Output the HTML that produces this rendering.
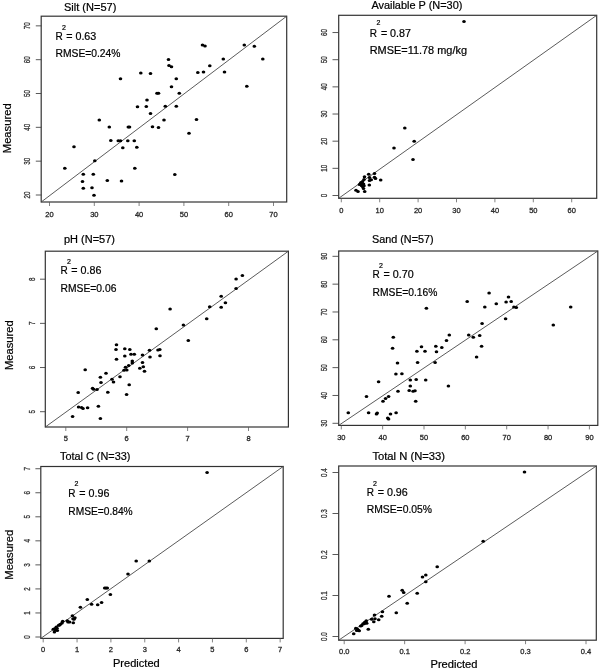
<!DOCTYPE html>
<html><head><meta charset="utf-8"><title>Measured vs Predicted</title>
<style>
html,body{margin:0;padding:0;background:#fff;}
svg{display:block;font-family:"Liberation Sans",sans-serif;}
.t{fill:#000;font-size:10px;stroke:#000;stroke-width:0.2px;}
.tt{fill:#000;font-size:10px;stroke:#000;stroke-width:0.2px;}
.tl{fill:#333;font-size:7px;stroke:#333;stroke-width:0.25px;}
.tlx{fill:#2a2a2a;font-size:7.5px;stroke:#2a2a2a;stroke-width:0.3px;}
.sup{fill:#000;font-size:7px;stroke:#000;stroke-width:0.2px;}
.fr{fill:none;stroke:#333;stroke-width:1.2;}
.dg{stroke:#484848;stroke-width:0.9;}
.tky{stroke:#3c3c3c;stroke-width:0.85;}
.tkx{stroke:#5a5a5a;stroke-width:0.75;}
.zz{stroke:#444;stroke-width:1.2;}
.p ellipse{fill:#000;}
</style></head>
<body>
<svg width="600" height="669" viewBox="0 0 600 669">
<defs><filter id="b" x="-5%" y="-5%" width="110%" height="110%"><feGaussianBlur stdDeviation="0.4"/></filter></defs>
<g filter="url(#b)">
<rect x="0" y="0" width="600" height="669" fill="#fff"/>
<!-- panel 1 -->
<g>
<rect class="fr" x="41.2" y="16.2" width="245.5" height="185.8"/>
<line class="dg" x1="41.2" y1="202" x2="286.7" y2="16.2"/>
<path class="tky" fill="none" d="M35.8 195H41.2M35.8 161.17H41.2M35.8 127.34H41.2M35.8 93.51H41.2M35.8 59.68H41.2M35.8 25.85H41.2"/>
<path class="tkx" fill="none" d="M49.5 202V206M94.3 202V206M139.1 202V206M183.9 202V206M228.7 202V206M273.5 202V206"/>
<text class="tl" text-anchor="middle" transform="translate(30.18 195) rotate(-90) scale(0.9 1.3)">20</text>
<text class="tl" text-anchor="middle" transform="translate(30.18 161.17) rotate(-90) scale(0.9 1.3)">30</text>
<text class="tl" text-anchor="middle" transform="translate(30.18 127.34) rotate(-90) scale(0.9 1.3)">40</text>
<text class="tl" text-anchor="middle" transform="translate(30.18 93.51) rotate(-90) scale(0.9 1.3)">50</text>
<text class="tl" text-anchor="middle" transform="translate(30.18 59.68) rotate(-90) scale(0.9 1.3)">60</text>
<text class="tl" text-anchor="middle" transform="translate(30.18 25.85) rotate(-90) scale(0.9 1.3)">70</text>
<text class="tlx" text-anchor="middle" x="49.5" y="216.7">20</text>
<text class="tlx" text-anchor="middle" x="94.3" y="216.7">30</text>
<text class="tlx" text-anchor="middle" x="139.1" y="216.7">40</text>
<text class="tlx" text-anchor="middle" x="183.9" y="216.7">50</text>
<text class="tlx" text-anchor="middle" x="228.7" y="216.7">60</text>
<text class="tlx" text-anchor="middle" x="273.5" y="216.7">70</text>
<text class="tt" x="64" y="10.7" textLength="52.3" lengthAdjust="spacingAndGlyphs">Silt (N=57)</text>
<text class="t" x="55.5" y="39.6">R</text>
<text class="sup" x="62" y="29.5">2</text>
<text class="t" x="66.2" y="39.6" textLength="30.1" lengthAdjust="spacingAndGlyphs">= 0.63</text>
<text class="t" x="55.5" y="57.4" textLength="65" lengthAdjust="spacingAndGlyphs">RMSE=0.24%</text>
<g class="p"><ellipse cx="202.5" cy="45" rx="1.8" ry="1.5"/><ellipse cx="205" cy="46" rx="1.8" ry="1.5"/><ellipse cx="244.3" cy="45" rx="1.8" ry="1.5"/><ellipse cx="254.3" cy="46.3" rx="1.8" ry="1.5"/><ellipse cx="262.8" cy="59" rx="1.8" ry="1.5"/><ellipse cx="223.3" cy="59" rx="1.8" ry="1.5"/><ellipse cx="168.5" cy="59.5" rx="1.8" ry="1.5"/><ellipse cx="169" cy="65.5" rx="1.8" ry="1.5"/><ellipse cx="171.5" cy="66.8" rx="1.8" ry="1.5"/><ellipse cx="209.8" cy="65.8" rx="1.8" ry="1.5"/><ellipse cx="197.8" cy="72.5" rx="1.8" ry="1.5"/><ellipse cx="203.5" cy="72" rx="1.8" ry="1.5"/><ellipse cx="224.5" cy="72" rx="1.8" ry="1.5"/><ellipse cx="140.8" cy="73" rx="1.8" ry="1.5"/><ellipse cx="150.5" cy="73.5" rx="1.8" ry="1.5"/><ellipse cx="176.3" cy="78.8" rx="1.8" ry="1.5"/><ellipse cx="246.8" cy="86.3" rx="1.8" ry="1.5"/><ellipse cx="171.5" cy="86.8" rx="1.8" ry="1.5"/><ellipse cx="157" cy="93.3" rx="1.8" ry="1.5"/><ellipse cx="158.5" cy="93.3" rx="1.8" ry="1.5"/><ellipse cx="179.3" cy="93.3" rx="1.8" ry="1.5"/><ellipse cx="147" cy="100" rx="1.8" ry="1.5"/><ellipse cx="146.3" cy="106.5" rx="1.8" ry="1.5"/><ellipse cx="165.3" cy="106.3" rx="1.8" ry="1.5"/><ellipse cx="176.3" cy="106.3" rx="1.8" ry="1.5"/><ellipse cx="150.5" cy="113.5" rx="1.8" ry="1.5"/><ellipse cx="164" cy="120" rx="1.8" ry="1.5"/><ellipse cx="196.5" cy="119.5" rx="1.8" ry="1.5"/><ellipse cx="120.5" cy="78.8" rx="1.8" ry="1.5"/><ellipse cx="137.5" cy="106.8" rx="1.8" ry="1.5"/><ellipse cx="99.3" cy="120" rx="1.8" ry="1.5"/><ellipse cx="109.3" cy="127" rx="1.8" ry="1.5"/><ellipse cx="128.3" cy="127" rx="1.8" ry="1.5"/><ellipse cx="129.5" cy="127" rx="1.8" ry="1.5"/><ellipse cx="152.5" cy="126.8" rx="1.8" ry="1.5"/><ellipse cx="158.5" cy="127.5" rx="1.8" ry="1.5"/><ellipse cx="189" cy="133.3" rx="1.8" ry="1.5"/><ellipse cx="110.8" cy="140.5" rx="1.8" ry="1.5"/><ellipse cx="118.3" cy="140.8" rx="1.8" ry="1.5"/><ellipse cx="120.5" cy="140.8" rx="1.8" ry="1.5"/><ellipse cx="127.8" cy="140.8" rx="1.8" ry="1.5"/><ellipse cx="134.3" cy="140.8" rx="1.8" ry="1.5"/><ellipse cx="74" cy="146.8" rx="1.8" ry="1.5"/><ellipse cx="122.8" cy="147.8" rx="1.8" ry="1.5"/><ellipse cx="136.8" cy="147.3" rx="1.8" ry="1.5"/><ellipse cx="94.8" cy="160.8" rx="1.8" ry="1.5"/><ellipse cx="64.8" cy="168.3" rx="1.8" ry="1.5"/><ellipse cx="134.8" cy="168.3" rx="1.8" ry="1.5"/><ellipse cx="83.3" cy="174.3" rx="1.8" ry="1.5"/><ellipse cx="93.3" cy="174.3" rx="1.8" ry="1.5"/><ellipse cx="174.8" cy="174.5" rx="1.8" ry="1.5"/><ellipse cx="82.5" cy="181.5" rx="1.8" ry="1.5"/><ellipse cx="107.3" cy="180.5" rx="1.8" ry="1.5"/><ellipse cx="121.5" cy="181" rx="1.8" ry="1.5"/><ellipse cx="83.3" cy="188.3" rx="1.8" ry="1.5"/><ellipse cx="92" cy="187.8" rx="1.8" ry="1.5"/><ellipse cx="94" cy="195.3" rx="1.8" ry="1.5"/></g>
</g>
<!-- panel 2 -->
<g>
<rect class="fr" x="338.7" y="15.3" width="258" height="183"/>
<line class="dg" x1="338.7" y1="198.3" x2="596.7" y2="15.3"/>
<path class="tky" fill="none" d="M332.5 195.5H338.7M332.5 168.34H338.7M332.5 141.18H338.7M332.5 114.02H338.7M332.5 86.86H338.7M332.5 59.7H338.7M332.5 32.54H338.7"/>
<path class="tkx" fill="none" d="M341.3 198.3V202.3M379.7 198.3V202.3M418.1 198.3V202.3M456.5 198.3V202.3M494.9 198.3V202.3M533.3 198.3V202.3M571.7 198.3V202.3"/>
<text class="tl" text-anchor="middle" transform="translate(326.98 195.5) rotate(-90) scale(0.9 1.3)">0</text>
<text class="tl" text-anchor="middle" transform="translate(326.98 168.34) rotate(-90) scale(0.9 1.3)">10</text>
<text class="tl" text-anchor="middle" transform="translate(326.98 141.18) rotate(-90) scale(0.9 1.3)">20</text>
<text class="tl" text-anchor="middle" transform="translate(326.98 114.02) rotate(-90) scale(0.9 1.3)">30</text>
<text class="tl" text-anchor="middle" transform="translate(326.98 86.86) rotate(-90) scale(0.9 1.3)">40</text>
<text class="tl" text-anchor="middle" transform="translate(326.98 59.7) rotate(-90) scale(0.9 1.3)">50</text>
<text class="tl" text-anchor="middle" transform="translate(326.98 32.54) rotate(-90) scale(0.9 1.3)">60</text>
<text class="tlx" text-anchor="middle" x="341.3" y="213">0</text>
<text class="tlx" text-anchor="middle" x="379.7" y="213">10</text>
<text class="tlx" text-anchor="middle" x="418.1" y="213">20</text>
<text class="tlx" text-anchor="middle" x="456.5" y="213">30</text>
<text class="tlx" text-anchor="middle" x="494.9" y="213">40</text>
<text class="tlx" text-anchor="middle" x="533.3" y="213">50</text>
<text class="tlx" text-anchor="middle" x="571.7" y="213">60</text>
<text class="tt" x="371.4" y="8.6" textLength="91" lengthAdjust="spacingAndGlyphs">Available P (N=30)</text>
<text class="t" x="369.7" y="37">R</text>
<text class="sup" x="376.4" y="25">2</text>
<text class="t" x="380.9" y="37" textLength="30.1" lengthAdjust="spacingAndGlyphs">= 0.87</text>
<text class="t" x="369.7" y="54.4" textLength="97.3" lengthAdjust="spacingAndGlyphs">RMSE=11.78 mg/kg</text>
<g class="p"><ellipse cx="374.5" cy="173.5" rx="1.8" ry="1.5"/><ellipse cx="368.7" cy="174.3" rx="1.8" ry="1.5"/><ellipse cx="364.5" cy="176.8" rx="1.8" ry="1.5"/><ellipse cx="369.5" cy="177.5" rx="1.8" ry="1.5"/><ellipse cx="374.5" cy="177.2" rx="1.8" ry="1.5"/><ellipse cx="375.5" cy="178.5" rx="1.8" ry="1.5"/><ellipse cx="380.7" cy="180" rx="1.8" ry="1.5"/><ellipse cx="371.2" cy="179.8" rx="1.8" ry="1.5"/><ellipse cx="369.5" cy="180.5" rx="1.8" ry="1.5"/><ellipse cx="364" cy="179.5" rx="1.8" ry="1.5"/><ellipse cx="362.5" cy="181.5" rx="1.8" ry="1.5"/><ellipse cx="361" cy="182.5" rx="1.8" ry="1.5"/><ellipse cx="359.5" cy="184.5" rx="1.8" ry="1.5"/><ellipse cx="361.5" cy="184.5" rx="1.8" ry="1.5"/><ellipse cx="363.5" cy="184" rx="1.8" ry="1.5"/><ellipse cx="364" cy="185.8" rx="1.8" ry="1.5"/><ellipse cx="362.5" cy="186.5" rx="1.8" ry="1.5"/><ellipse cx="369.3" cy="185" rx="1.8" ry="1.5"/><ellipse cx="363.5" cy="188.5" rx="1.8" ry="1.5"/><ellipse cx="356" cy="190.3" rx="1.8" ry="1.5"/><ellipse cx="358" cy="191.5" rx="1.8" ry="1.5"/><ellipse cx="364.7" cy="191.5" rx="1.8" ry="1.5"/><ellipse cx="360.5" cy="183.5" rx="1.8" ry="1.5"/><ellipse cx="362" cy="183" rx="1.8" ry="1.5"/><ellipse cx="361.5" cy="185.5" rx="1.8" ry="1.5"/><ellipse cx="464" cy="21.4" rx="1.8" ry="1.5"/><ellipse cx="404.8" cy="128" rx="1.8" ry="1.5"/><ellipse cx="414.2" cy="141.2" rx="1.8" ry="1.5"/><ellipse cx="394" cy="148" rx="1.8" ry="1.5"/><ellipse cx="413" cy="159.5" rx="1.8" ry="1.5"/></g>
</g>
<!-- panel 3 -->
<g>
<rect class="fr" x="45.3" y="251.2" width="243.1" height="175.8"/>
<line class="dg" x1="45.3" y1="427" x2="288.4" y2="251.2"/>
<path class="tky" fill="none" d="M40 411.7H45.3M40 367.53H45.3M40 323.36H45.3M40 279.19H45.3"/>
<path class="tkx" fill="none" d="M65.8 427V431M126.7 427V431M187.6 427V431M248.5 427V431"/>
<text class="tl" text-anchor="middle" transform="translate(34.78 411.7) rotate(-90) scale(0.9 1.3)">5</text>
<text class="tl" text-anchor="middle" transform="translate(34.78 367.53) rotate(-90) scale(0.9 1.3)">6</text>
<text class="tl" text-anchor="middle" transform="translate(34.78 323.36) rotate(-90) scale(0.9 1.3)">7</text>
<text class="tl" text-anchor="middle" transform="translate(34.78 279.19) rotate(-90) scale(0.9 1.3)">8</text>
<text class="tlx" text-anchor="middle" x="65.8" y="441">5</text>
<text class="tlx" text-anchor="middle" x="126.7" y="441">6</text>
<text class="tlx" text-anchor="middle" x="187.6" y="441">7</text>
<text class="tlx" text-anchor="middle" x="248.5" y="441">8</text>
<text class="tt" x="64" y="243" textLength="51" lengthAdjust="spacingAndGlyphs">pH (N=57)</text>
<text class="t" x="60.6" y="274.4">R</text>
<text class="sup" x="67" y="264">2</text>
<text class="t" x="71.3" y="274.4" textLength="30.1" lengthAdjust="spacingAndGlyphs">= 0.86</text>
<text class="t" x="60.6" y="291.6" textLength="55.8" lengthAdjust="spacingAndGlyphs">RMSE=0.06</text>
<g class="p"><ellipse cx="116.5" cy="344.8" rx="1.8" ry="1.5"/><ellipse cx="116" cy="349.5" rx="1.8" ry="1.5"/><ellipse cx="124.8" cy="348.8" rx="1.8" ry="1.5"/><ellipse cx="129.8" cy="349.5" rx="1.8" ry="1.5"/><ellipse cx="131" cy="354.3" rx="1.8" ry="1.5"/><ellipse cx="134.3" cy="354.3" rx="1.8" ry="1.5"/><ellipse cx="124.8" cy="356" rx="1.8" ry="1.5"/><ellipse cx="116.5" cy="359.2" rx="1.8" ry="1.5"/><ellipse cx="142.5" cy="355" rx="1.8" ry="1.5"/><ellipse cx="149.5" cy="350.3" rx="1.8" ry="1.5"/><ellipse cx="158" cy="350" rx="1.8" ry="1.5"/><ellipse cx="159.8" cy="349.5" rx="1.8" ry="1.5"/><ellipse cx="160" cy="355.7" rx="1.8" ry="1.5"/><ellipse cx="150" cy="357" rx="1.8" ry="1.5"/><ellipse cx="142.5" cy="362.5" rx="1.8" ry="1.5"/><ellipse cx="132.3" cy="361" rx="1.8" ry="1.5"/><ellipse cx="132.3" cy="363" rx="1.8" ry="1.5"/><ellipse cx="128.7" cy="365.5" rx="1.8" ry="1.5"/><ellipse cx="125.5" cy="367.2" rx="1.8" ry="1.5"/><ellipse cx="124" cy="370.2" rx="1.8" ry="1.5"/><ellipse cx="126.8" cy="370" rx="1.8" ry="1.5"/><ellipse cx="139.8" cy="368.2" rx="1.8" ry="1.5"/><ellipse cx="143.3" cy="366.8" rx="1.8" ry="1.5"/><ellipse cx="144.5" cy="371.3" rx="1.8" ry="1.5"/><ellipse cx="85.2" cy="369.8" rx="1.8" ry="1.5"/><ellipse cx="106" cy="373.2" rx="1.8" ry="1.5"/><ellipse cx="100.4" cy="377.2" rx="1.8" ry="1.5"/><ellipse cx="120" cy="376.8" rx="1.8" ry="1.5"/><ellipse cx="112" cy="379.2" rx="1.8" ry="1.5"/><ellipse cx="113.5" cy="382" rx="1.8" ry="1.5"/><ellipse cx="101" cy="382.4" rx="1.8" ry="1.5"/><ellipse cx="129.2" cy="384.8" rx="1.8" ry="1.5"/><ellipse cx="92.6" cy="388.2" rx="1.8" ry="1.5"/><ellipse cx="93.6" cy="389.2" rx="1.8" ry="1.5"/><ellipse cx="97" cy="389.4" rx="1.8" ry="1.5"/><ellipse cx="78.2" cy="392.6" rx="1.8" ry="1.5"/><ellipse cx="107.8" cy="392.2" rx="1.8" ry="1.5"/><ellipse cx="126.6" cy="394.6" rx="1.8" ry="1.5"/><ellipse cx="78.6" cy="407" rx="1.8" ry="1.5"/><ellipse cx="81.6" cy="407.4" rx="1.8" ry="1.5"/><ellipse cx="83" cy="408.4" rx="1.8" ry="1.5"/><ellipse cx="87.6" cy="407.8" rx="1.8" ry="1.5"/><ellipse cx="98.4" cy="406.2" rx="1.8" ry="1.5"/><ellipse cx="72.6" cy="416.4" rx="1.8" ry="1.5"/><ellipse cx="100.4" cy="418.6" rx="1.8" ry="1.5"/><ellipse cx="242.4" cy="275.5" rx="1.8" ry="1.5"/><ellipse cx="236.1" cy="279" rx="1.8" ry="1.5"/><ellipse cx="236.1" cy="288.6" rx="1.8" ry="1.5"/><ellipse cx="221.2" cy="296.3" rx="1.8" ry="1.5"/><ellipse cx="225.4" cy="302.8" rx="1.8" ry="1.5"/><ellipse cx="221.2" cy="307.3" rx="1.8" ry="1.5"/><ellipse cx="209.7" cy="306.8" rx="1.8" ry="1.5"/><ellipse cx="170.1" cy="308.9" rx="1.8" ry="1.5"/><ellipse cx="206.7" cy="318.7" rx="1.8" ry="1.5"/><ellipse cx="183.4" cy="325" rx="1.8" ry="1.5"/><ellipse cx="156.3" cy="328.7" rx="1.8" ry="1.5"/><ellipse cx="188.3" cy="340.4" rx="1.8" ry="1.5"/></g>
</g>
<!-- panel 4 -->
<g>
<rect class="fr" x="338.7" y="251" width="259.1" height="174.4"/>
<line class="dg" x1="338.7" y1="425.4" x2="597.8" y2="251"/>
<path class="tky" fill="none" d="M332.5 423.3H338.7M332.5 395.47H338.7M332.5 367.64H338.7M332.5 339.81H338.7M332.5 311.98H338.7M332.5 284.15H338.7M332.5 256.32H338.7"/>
<path class="tkx" fill="none" d="M341.3 425.4V429.4M382.65 425.4V429.4M424 425.4V429.4M465.35 425.4V429.4M506.7 425.4V429.4M548.05 425.4V429.4M589.4 425.4V429.4"/>
<text class="tl" text-anchor="middle" transform="translate(326.98 423.3) rotate(-90) scale(0.9 1.3)">30</text>
<text class="tl" text-anchor="middle" transform="translate(326.98 395.47) rotate(-90) scale(0.9 1.3)">40</text>
<text class="tl" text-anchor="middle" transform="translate(326.98 367.64) rotate(-90) scale(0.9 1.3)">50</text>
<text class="tl" text-anchor="middle" transform="translate(326.98 339.81) rotate(-90) scale(0.9 1.3)">60</text>
<text class="tl" text-anchor="middle" transform="translate(326.98 311.98) rotate(-90) scale(0.9 1.3)">70</text>
<text class="tl" text-anchor="middle" transform="translate(326.98 284.15) rotate(-90) scale(0.9 1.3)">80</text>
<text class="tl" text-anchor="middle" transform="translate(326.98 256.32) rotate(-90) scale(0.9 1.3)">90</text>
<text class="tlx" text-anchor="middle" x="341.3" y="440.2">30</text>
<text class="tlx" text-anchor="middle" x="382.65" y="440.2">40</text>
<text class="tlx" text-anchor="middle" x="424" y="440.2">50</text>
<text class="tlx" text-anchor="middle" x="465.35" y="440.2">60</text>
<text class="tlx" text-anchor="middle" x="506.7" y="440.2">70</text>
<text class="tlx" text-anchor="middle" x="548.05" y="440.2">80</text>
<text class="tlx" text-anchor="middle" x="589.4" y="440.2">90</text>
<text class="tt" x="372" y="243" textLength="61.6" lengthAdjust="spacingAndGlyphs">Sand (N=57)</text>
<text class="t" x="372.6" y="278">R</text>
<text class="sup" x="379" y="267.6">2</text>
<text class="t" x="383.5" y="278" textLength="30.1" lengthAdjust="spacingAndGlyphs">= 0.70</text>
<text class="t" x="372.6" y="295.6" textLength="64.8" lengthAdjust="spacingAndGlyphs">RMSE=0.16%</text>
<g class="p"><ellipse cx="393.3" cy="337.3" rx="1.8" ry="1.5"/><ellipse cx="392.6" cy="348.3" rx="1.8" ry="1.5"/><ellipse cx="421.5" cy="346.7" rx="1.8" ry="1.5"/><ellipse cx="435.8" cy="346.2" rx="1.8" ry="1.5"/><ellipse cx="441.8" cy="347.4" rx="1.8" ry="1.5"/><ellipse cx="446.5" cy="340.6" rx="1.8" ry="1.5"/><ellipse cx="449.3" cy="335" rx="1.8" ry="1.5"/><ellipse cx="416.9" cy="351.3" rx="1.8" ry="1.5"/><ellipse cx="425" cy="351.3" rx="1.8" ry="1.5"/><ellipse cx="436.5" cy="351.8" rx="1.8" ry="1.5"/><ellipse cx="473.3" cy="337.3" rx="1.8" ry="1.5"/><ellipse cx="468.7" cy="335" rx="1.8" ry="1.5"/><ellipse cx="476.6" cy="356.9" rx="1.8" ry="1.5"/><ellipse cx="397.5" cy="363" rx="1.8" ry="1.5"/><ellipse cx="417.6" cy="362.5" rx="1.8" ry="1.5"/><ellipse cx="435.1" cy="362.5" rx="1.8" ry="1.5"/><ellipse cx="395.9" cy="374" rx="1.8" ry="1.5"/><ellipse cx="401.9" cy="373.7" rx="1.8" ry="1.5"/><ellipse cx="378.6" cy="381.7" rx="1.8" ry="1.5"/><ellipse cx="410.3" cy="380" rx="1.8" ry="1.5"/><ellipse cx="416.2" cy="379.6" rx="1.8" ry="1.5"/><ellipse cx="425.7" cy="380" rx="1.8" ry="1.5"/><ellipse cx="410.3" cy="386.1" rx="1.8" ry="1.5"/><ellipse cx="448.4" cy="386.1" rx="1.8" ry="1.5"/><ellipse cx="398" cy="391.2" rx="1.8" ry="1.5"/><ellipse cx="409.2" cy="390.5" rx="1.8" ry="1.5"/><ellipse cx="413.1" cy="391.2" rx="1.8" ry="1.5"/><ellipse cx="415" cy="390.8" rx="1.8" ry="1.5"/><ellipse cx="366.5" cy="396.4" rx="1.8" ry="1.5"/><ellipse cx="388.6" cy="396.4" rx="1.8" ry="1.5"/><ellipse cx="385.6" cy="398.5" rx="1.8" ry="1.5"/><ellipse cx="383" cy="401.3" rx="1.8" ry="1.5"/><ellipse cx="415.7" cy="401.3" rx="1.8" ry="1.5"/><ellipse cx="348.3" cy="412.7" rx="1.8" ry="1.5"/><ellipse cx="368.6" cy="412.7" rx="1.8" ry="1.5"/><ellipse cx="376.5" cy="413.9" rx="1.8" ry="1.5"/><ellipse cx="377.2" cy="412.9" rx="1.8" ry="1.5"/><ellipse cx="396.1" cy="412.7" rx="1.8" ry="1.5"/><ellipse cx="390.5" cy="414.1" rx="1.8" ry="1.5"/><ellipse cx="387.7" cy="418" rx="1.8" ry="1.5"/><ellipse cx="388.6" cy="419" rx="1.8" ry="1.5"/><ellipse cx="489.1" cy="292.9" rx="1.8" ry="1.5"/><ellipse cx="508.5" cy="296.9" rx="1.8" ry="1.5"/><ellipse cx="467.2" cy="301.4" rx="1.8" ry="1.5"/><ellipse cx="506.1" cy="301.9" rx="1.8" ry="1.5"/><ellipse cx="511.2" cy="301.4" rx="1.8" ry="1.5"/><ellipse cx="496.3" cy="303.8" rx="1.8" ry="1.5"/><ellipse cx="484.8" cy="307" rx="1.8" ry="1.5"/><ellipse cx="513.9" cy="307" rx="1.8" ry="1.5"/><ellipse cx="516.3" cy="307.5" rx="1.8" ry="1.5"/><ellipse cx="570.7" cy="307" rx="1.8" ry="1.5"/><ellipse cx="505.6" cy="318.7" rx="1.8" ry="1.5"/><ellipse cx="553.3" cy="325.1" rx="1.8" ry="1.5"/><ellipse cx="482.1" cy="323.5" rx="1.8" ry="1.5"/><ellipse cx="479.7" cy="335.5" rx="1.8" ry="1.5"/><ellipse cx="481.6" cy="346.2" rx="1.8" ry="1.5"/><ellipse cx="426.4" cy="308.2" rx="1.8" ry="1.5"/></g>
</g>
<!-- panel 5 -->
<g>
<rect class="fr" x="40.8" y="466.5" width="242.4" height="171.9"/>
<line class="dg" x1="40.8" y1="638.4" x2="283.2" y2="466.5"/>
<path class="tky" fill="none" d="M35.4 637H40.8M35.4 612.96H40.8M35.4 588.92H40.8M35.4 564.88H40.8M35.4 540.84H40.8M35.4 516.8H40.8M35.4 492.76H40.8M35.4 468.72H40.8"/>
<path class="tkx" fill="none" d="M43.2 638.4V642.4M77.05 638.4V642.4M110.9 638.4V642.4M144.75 638.4V642.4M178.6 638.4V642.4M212.45 638.4V642.4M246.3 638.4V642.4M280.15 638.4V642.4"/>
<text class="tl" text-anchor="middle" transform="translate(29.98 637) rotate(-90) scale(0.9 1.3)">0</text>
<text class="tl" text-anchor="middle" transform="translate(29.98 612.96) rotate(-90) scale(0.9 1.3)">1</text>
<text class="tl" text-anchor="middle" transform="translate(29.98 588.92) rotate(-90) scale(0.9 1.3)">2</text>
<text class="tl" text-anchor="middle" transform="translate(29.98 564.88) rotate(-90) scale(0.9 1.3)">3</text>
<text class="tl" text-anchor="middle" transform="translate(29.98 540.84) rotate(-90) scale(0.9 1.3)">4</text>
<text class="tl" text-anchor="middle" transform="translate(29.98 516.8) rotate(-90) scale(0.9 1.3)">5</text>
<text class="tl" text-anchor="middle" transform="translate(29.98 492.76) rotate(-90) scale(0.9 1.3)">6</text>
<text class="tl" text-anchor="middle" transform="translate(29.98 468.72) rotate(-90) scale(0.9 1.3)">7</text>
<text class="tlx" text-anchor="middle" x="43.2" y="651.8">0</text>
<text class="tlx" text-anchor="middle" x="77.05" y="651.8">1</text>
<text class="tlx" text-anchor="middle" x="110.9" y="651.8">2</text>
<text class="tlx" text-anchor="middle" x="144.75" y="651.8">3</text>
<text class="tlx" text-anchor="middle" x="178.6" y="651.8">4</text>
<text class="tlx" text-anchor="middle" x="212.45" y="651.8">5</text>
<text class="tlx" text-anchor="middle" x="246.3" y="651.8">6</text>
<text class="tlx" text-anchor="middle" x="280.15" y="651.8">7</text>
<text class="tt" x="60" y="459.8" textLength="70.4" lengthAdjust="spacingAndGlyphs">Total C (N=33)</text>
<text class="t" x="68.3" y="497.4">R</text>
<text class="sup" x="74.5" y="486">2</text>
<text class="t" x="79.3" y="497.4" textLength="30.1" lengthAdjust="spacingAndGlyphs">= 0.96</text>
<text class="t" x="68.3" y="514.5" textLength="64.4" lengthAdjust="spacingAndGlyphs">RMSE=0.84%</text>
<g class="p"><ellipse cx="104.7" cy="588" rx="1.8" ry="1.5"/><ellipse cx="106" cy="588" rx="1.8" ry="1.5"/><ellipse cx="107.3" cy="588" rx="1.8" ry="1.5"/><ellipse cx="110.4" cy="594.4" rx="1.8" ry="1.5"/><ellipse cx="87.3" cy="599.5" rx="1.8" ry="1.5"/><ellipse cx="101.6" cy="602.4" rx="1.8" ry="1.5"/><ellipse cx="91.6" cy="604.3" rx="1.8" ry="1.5"/><ellipse cx="97.7" cy="604.8" rx="1.8" ry="1.5"/><ellipse cx="80.4" cy="607.3" rx="1.8" ry="1.5"/><ellipse cx="72.4" cy="615.7" rx="1.8" ry="1.5"/><ellipse cx="74.9" cy="617.7" rx="1.8" ry="1.5"/><ellipse cx="74" cy="619.3" rx="1.8" ry="1.5"/><ellipse cx="73" cy="618.7" rx="1.8" ry="1.5"/><ellipse cx="67.3" cy="620.7" rx="1.8" ry="1.5"/><ellipse cx="68" cy="622" rx="1.8" ry="1.5"/><ellipse cx="69.6" cy="622" rx="1.8" ry="1.5"/><ellipse cx="73.3" cy="622.7" rx="1.8" ry="1.5"/><ellipse cx="62.7" cy="621.3" rx="1.8" ry="1.5"/><ellipse cx="62" cy="622.9" rx="1.8" ry="1.5"/><ellipse cx="60.3" cy="624.3" rx="1.8" ry="1.5"/><ellipse cx="58.7" cy="625.3" rx="1.8" ry="1.5"/><ellipse cx="56.3" cy="626.9" rx="1.8" ry="1.5"/><ellipse cx="57" cy="628.3" rx="1.8" ry="1.5"/><ellipse cx="53.3" cy="629.3" rx="1.8" ry="1.5"/><ellipse cx="55.3" cy="630" rx="1.8" ry="1.5"/><ellipse cx="57.3" cy="630.4" rx="1.8" ry="1.5"/><ellipse cx="54.4" cy="632" rx="1.8" ry="1.5"/><ellipse cx="207.1" cy="472.5" rx="1.8" ry="1.5"/><ellipse cx="136.2" cy="561.1" rx="1.8" ry="1.5"/><ellipse cx="149.3" cy="561.1" rx="1.8" ry="1.5"/><ellipse cx="128" cy="574" rx="1.8" ry="1.5"/><ellipse cx="59.5" cy="625" rx="1.8" ry="1.5"/><ellipse cx="55" cy="628.5" rx="1.8" ry="1.5"/></g>
</g>
<!-- panel 6 -->
<g>
<rect class="fr" x="338.7" y="466" width="257.6" height="174.2"/>
<line class="dg" x1="338.7" y1="640.2" x2="596.3" y2="466"/>
<path class="tky" fill="none" d="M332.5 636.5H338.7M332.5 595.5H338.7M332.5 554.5H338.7M332.5 513.5H338.7M332.5 472.5H338.7"/>
<path class="tkx" fill="none" d="M344.2 640.2V644.2M404.65 640.2V644.2M465.1 640.2V644.2M525.55 640.2V644.2M586 640.2V644.2"/>
<text class="tl" text-anchor="middle" transform="translate(327.38 636.5) rotate(-90) scale(0.9 1.3)">0.0</text>
<text class="tl" text-anchor="middle" transform="translate(327.38 595.5) rotate(-90) scale(0.9 1.3)">0.1</text>
<text class="tl" text-anchor="middle" transform="translate(327.38 554.5) rotate(-90) scale(0.9 1.3)">0.2</text>
<text class="tl" text-anchor="middle" transform="translate(327.38 513.5) rotate(-90) scale(0.9 1.3)">0.3</text>
<text class="tl" text-anchor="middle" transform="translate(327.38 472.5) rotate(-90) scale(0.9 1.3)">0.4</text>
<text class="tlx" text-anchor="middle" x="344.2" y="654.2">0.0</text>
<text class="tlx" text-anchor="middle" x="404.65" y="654.2">0.1</text>
<text class="tlx" text-anchor="middle" x="465.1" y="654.2">0.2</text>
<text class="tlx" text-anchor="middle" x="525.55" y="654.2">0.3</text>
<text class="tlx" text-anchor="middle" x="586" y="654.2">0.4</text>
<text class="tt" x="372.4" y="459.6" textLength="72.6" lengthAdjust="spacingAndGlyphs">Total N (N=33)</text>
<text class="t" x="366.7" y="496">R</text>
<text class="sup" x="373.1" y="485.6">2</text>
<text class="t" x="377.7" y="496" textLength="30.1" lengthAdjust="spacingAndGlyphs">= 0.96</text>
<text class="t" x="366.7" y="513" textLength="65.3" lengthAdjust="spacingAndGlyphs">RMSE=0.05%</text>
<g class="p"><ellipse cx="437.2" cy="566.7" rx="1.8" ry="1.5"/><ellipse cx="425.8" cy="575" rx="1.8" ry="1.5"/><ellipse cx="422.5" cy="577" rx="1.8" ry="1.5"/><ellipse cx="425.8" cy="581.7" rx="1.8" ry="1.5"/><ellipse cx="402.2" cy="590.3" rx="1.8" ry="1.5"/><ellipse cx="403.7" cy="592.5" rx="1.8" ry="1.5"/><ellipse cx="417.2" cy="593.3" rx="1.8" ry="1.5"/><ellipse cx="389" cy="596.2" rx="1.8" ry="1.5"/><ellipse cx="407.2" cy="603.3" rx="1.8" ry="1.5"/><ellipse cx="382.5" cy="611.7" rx="1.8" ry="1.5"/><ellipse cx="396.3" cy="612.8" rx="1.8" ry="1.5"/><ellipse cx="374.5" cy="615" rx="1.8" ry="1.5"/><ellipse cx="381.7" cy="616.3" rx="1.8" ry="1.5"/><ellipse cx="371.7" cy="619.2" rx="1.8" ry="1.5"/><ellipse cx="375" cy="618.7" rx="1.8" ry="1.5"/><ellipse cx="378.7" cy="619.7" rx="1.8" ry="1.5"/><ellipse cx="373.8" cy="621.7" rx="1.8" ry="1.5"/><ellipse cx="366.3" cy="620.7" rx="1.8" ry="1.5"/><ellipse cx="366.7" cy="623.3" rx="1.8" ry="1.5"/><ellipse cx="364.2" cy="623.7" rx="1.8" ry="1.5"/><ellipse cx="361.7" cy="625.5" rx="1.8" ry="1.5"/><ellipse cx="368.3" cy="629.2" rx="1.8" ry="1.5"/><ellipse cx="355.8" cy="628.3" rx="1.8" ry="1.5"/><ellipse cx="357.5" cy="629.2" rx="1.8" ry="1.5"/><ellipse cx="359.2" cy="630.8" rx="1.8" ry="1.5"/><ellipse cx="356.7" cy="630.5" rx="1.8" ry="1.5"/><ellipse cx="353.7" cy="633.7" rx="1.8" ry="1.5"/><ellipse cx="524.5" cy="472" rx="1.8" ry="1.5"/><ellipse cx="483.2" cy="541.3" rx="1.8" ry="1.5"/><ellipse cx="363" cy="623.7" rx="1.8" ry="1.5"/><ellipse cx="360.7" cy="626" rx="1.8" ry="1.5"/><ellipse cx="358.2" cy="630.2" rx="1.8" ry="1.5"/><ellipse cx="364.7" cy="622.3" rx="1.8" ry="1.5"/></g>
</g>
<text class="t" text-anchor="middle" transform="translate(10.5 128.3) rotate(-90)" textLength="49.8" lengthAdjust="spacingAndGlyphs">Measured</text>
<text class="t" text-anchor="middle" transform="translate(13 345.2) rotate(-90)" textLength="49.8" lengthAdjust="spacingAndGlyphs">Measured</text>
<text class="t" text-anchor="middle" transform="translate(13 554.8) rotate(-90)" textLength="49.8" lengthAdjust="spacingAndGlyphs">Measured</text>
<text class="t" x="113" y="667" textLength="46.7" lengthAdjust="spacingAndGlyphs">Predicted</text>
<text class="t" x="430.5" y="667.5" textLength="47" lengthAdjust="spacingAndGlyphs">Predicted</text>
</g>
</svg>
</body></html>
